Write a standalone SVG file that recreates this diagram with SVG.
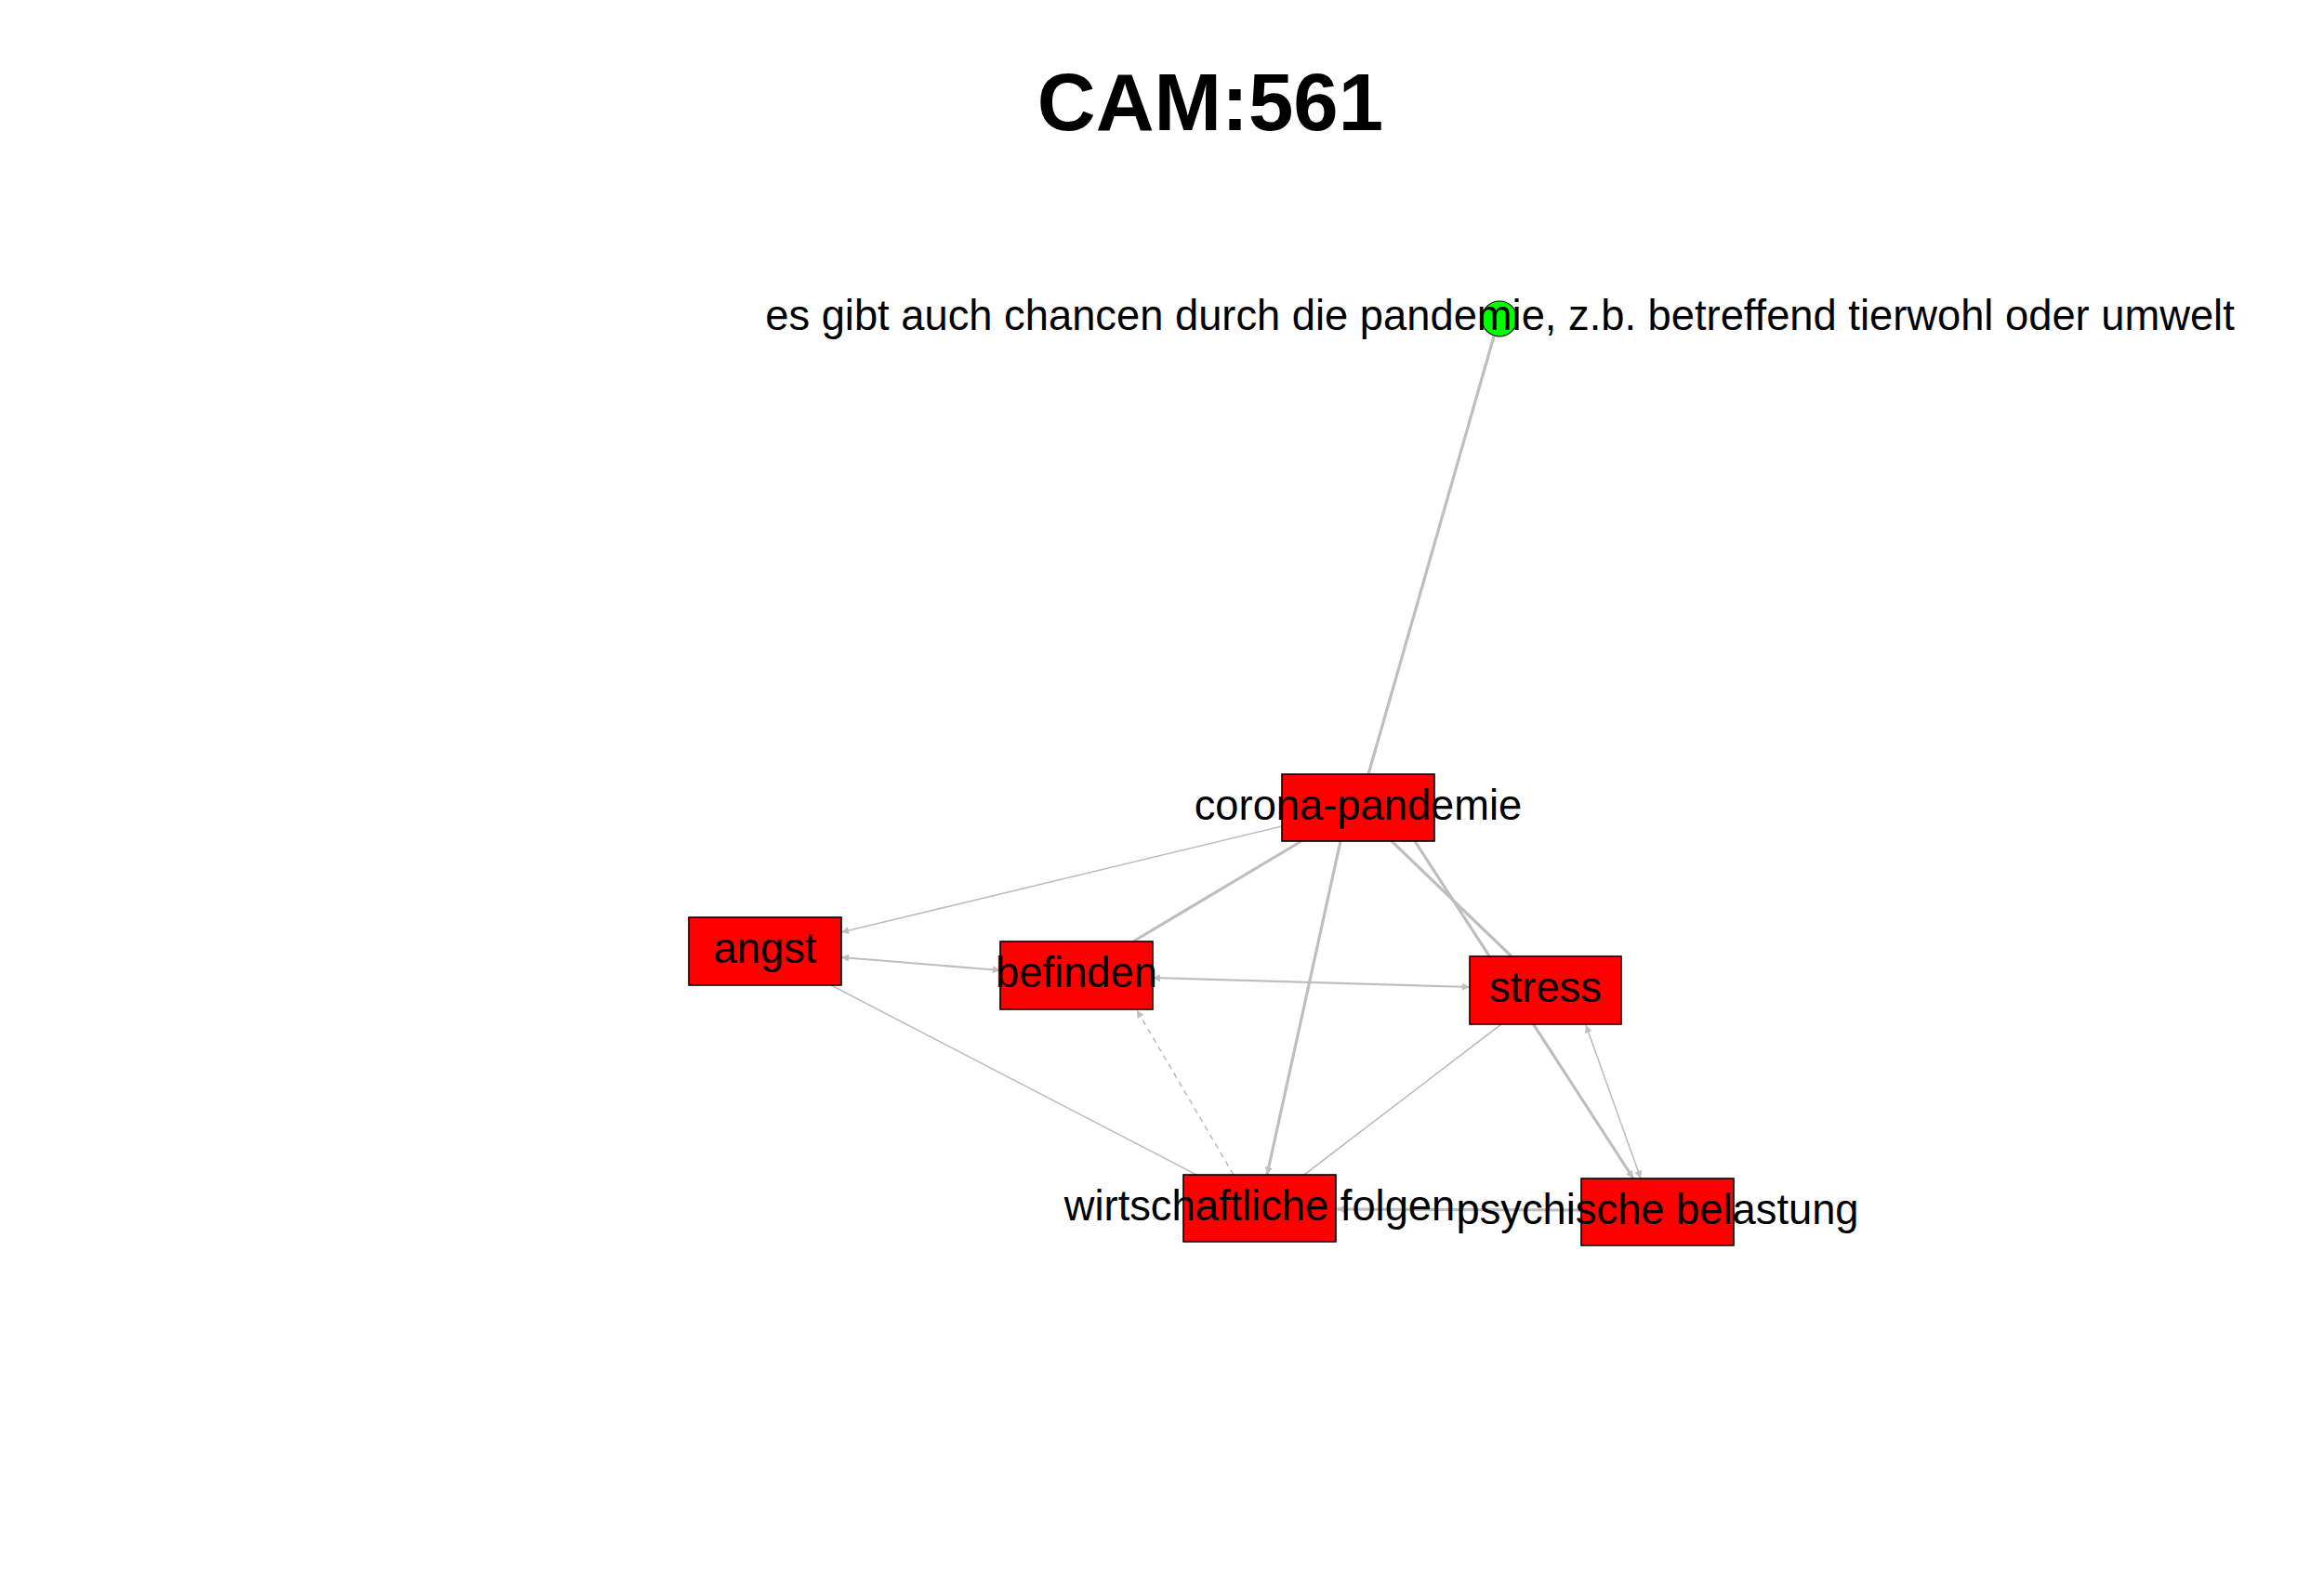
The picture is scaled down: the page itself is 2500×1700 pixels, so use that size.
<svg xmlns="http://www.w3.org/2000/svg" width="2500" height="1700" viewBox="0 0 2500 1700">
<style>
.e{stroke:#bebebe;fill:none}
.thin{stroke-width:1.6}
.mid{stroke-width:2.2}
.thick{stroke-width:3.2}
.dash{stroke-dasharray:6,5}
.n{fill:#ff0000;stroke:#000;stroke-width:1.6}
.lbl{font-family:"Liberation Sans",Arial,sans-serif;font-size:45.3px;fill:#000;text-anchor:middle}
.title{font-family:"Liberation Sans",Arial,sans-serif;font-size:87px;font-weight:bold;fill:#000;text-anchor:middle}
</style>
<defs>
<marker id="ah" viewBox="0 0 10 10" refX="10" refY="5" markerWidth="11" markerHeight="8" markerUnits="userSpaceOnUse" orient="auto-start-reverse">
<path d="M0,0 L10,5 L0,10 z" fill="#bebebe"/>
</marker>
</defs>
<rect width="2500" height="1700" fill="#fff"/>
<text class="title" x="1302" y="140">CAM:561</text>
<g id="edges">
<line class="e thick" x1="1607" y1="362" x2="1472" y2="833"/>
<line class="e thin" x1="1379" y1="889" x2="905" y2="1003" marker-end="url(#ah)"/>
<line class="e thick" x1="1400" y1="905" x2="1219" y2="1013"/>
<line class="e thick" x1="1442" y1="905" x2="1363" y2="1264" marker-end="url(#ah)"/>
<line class="e thick" x1="1497" y1="905" x2="1626" y2="1029"/>
<line class="e thick" x1="1522" y1="905" x2="1757" y2="1268" marker-end="url(#ah)"/>
<line class="e mid" x1="905" y1="1030" x2="1076" y2="1044" marker-start="url(#ah)" marker-end="url(#ah)"/>
<line class="e thin" x1="894" y1="1060" x2="1287" y2="1264"/>
<line class="e mid" x1="1581" y1="1062" x2="1240" y2="1052" marker-start="url(#ah)" marker-end="url(#ah)"/>
<line class="e thin dash" x1="1327" y1="1264" x2="1223" y2="1087" marker-end="url(#ah)"/>
<line class="e thin" x1="1615" y1="1102" x2="1403" y2="1264"/>
<line class="e thin" x1="1706" y1="1103" x2="1765" y2="1268" marker-start="url(#ah)" marker-end="url(#ah)"/>
<line class="e thick" x1="1701" y1="1302" x2="1438" y2="1301" marker-end="url(#ah)"/>
</g>
<g id="node-green">
<circle cx="1613" cy="343" r="19" fill="#00ff00" stroke="#000" stroke-width="1.2"/>
<text class="lbl" x="1613.5" y="355">es gibt auch chancen durch die pandemie, z.b. betreffend tierwohl oder umwelt</text>
</g>
<g id="node-corona">
<rect class="n" x="1379" y="833" width="164" height="72"/>
<text class="lbl" x="1461" y="882">corona-pandemie</text>
</g>
<g id="node-angst">
<rect class="n" x="741" y="987" width="164" height="73"/>
<text class="lbl" x="823" y="1036">angst</text>
</g>
<g id="node-befinden">
<rect class="n" x="1076" y="1013" width="164" height="73"/>
<text class="lbl" x="1158" y="1062">befinden</text>
</g>
<g id="node-stress">
<rect class="n" x="1581" y="1029" width="163" height="73"/>
<text class="lbl" x="1662.5" y="1078">stress</text>
</g>
<g id="node-wirtschaftliche">
<rect class="n" x="1273" y="1264" width="164" height="72"/>
<text class="lbl" x="1355" y="1313">wirtschaftliche folgen</text>
</g>
<g id="node-psychische">
<rect class="n" x="1701" y="1268" width="164" height="72"/>
<text class="lbl" x="1783" y="1317">psychische belastung</text>
</g>
</svg>
